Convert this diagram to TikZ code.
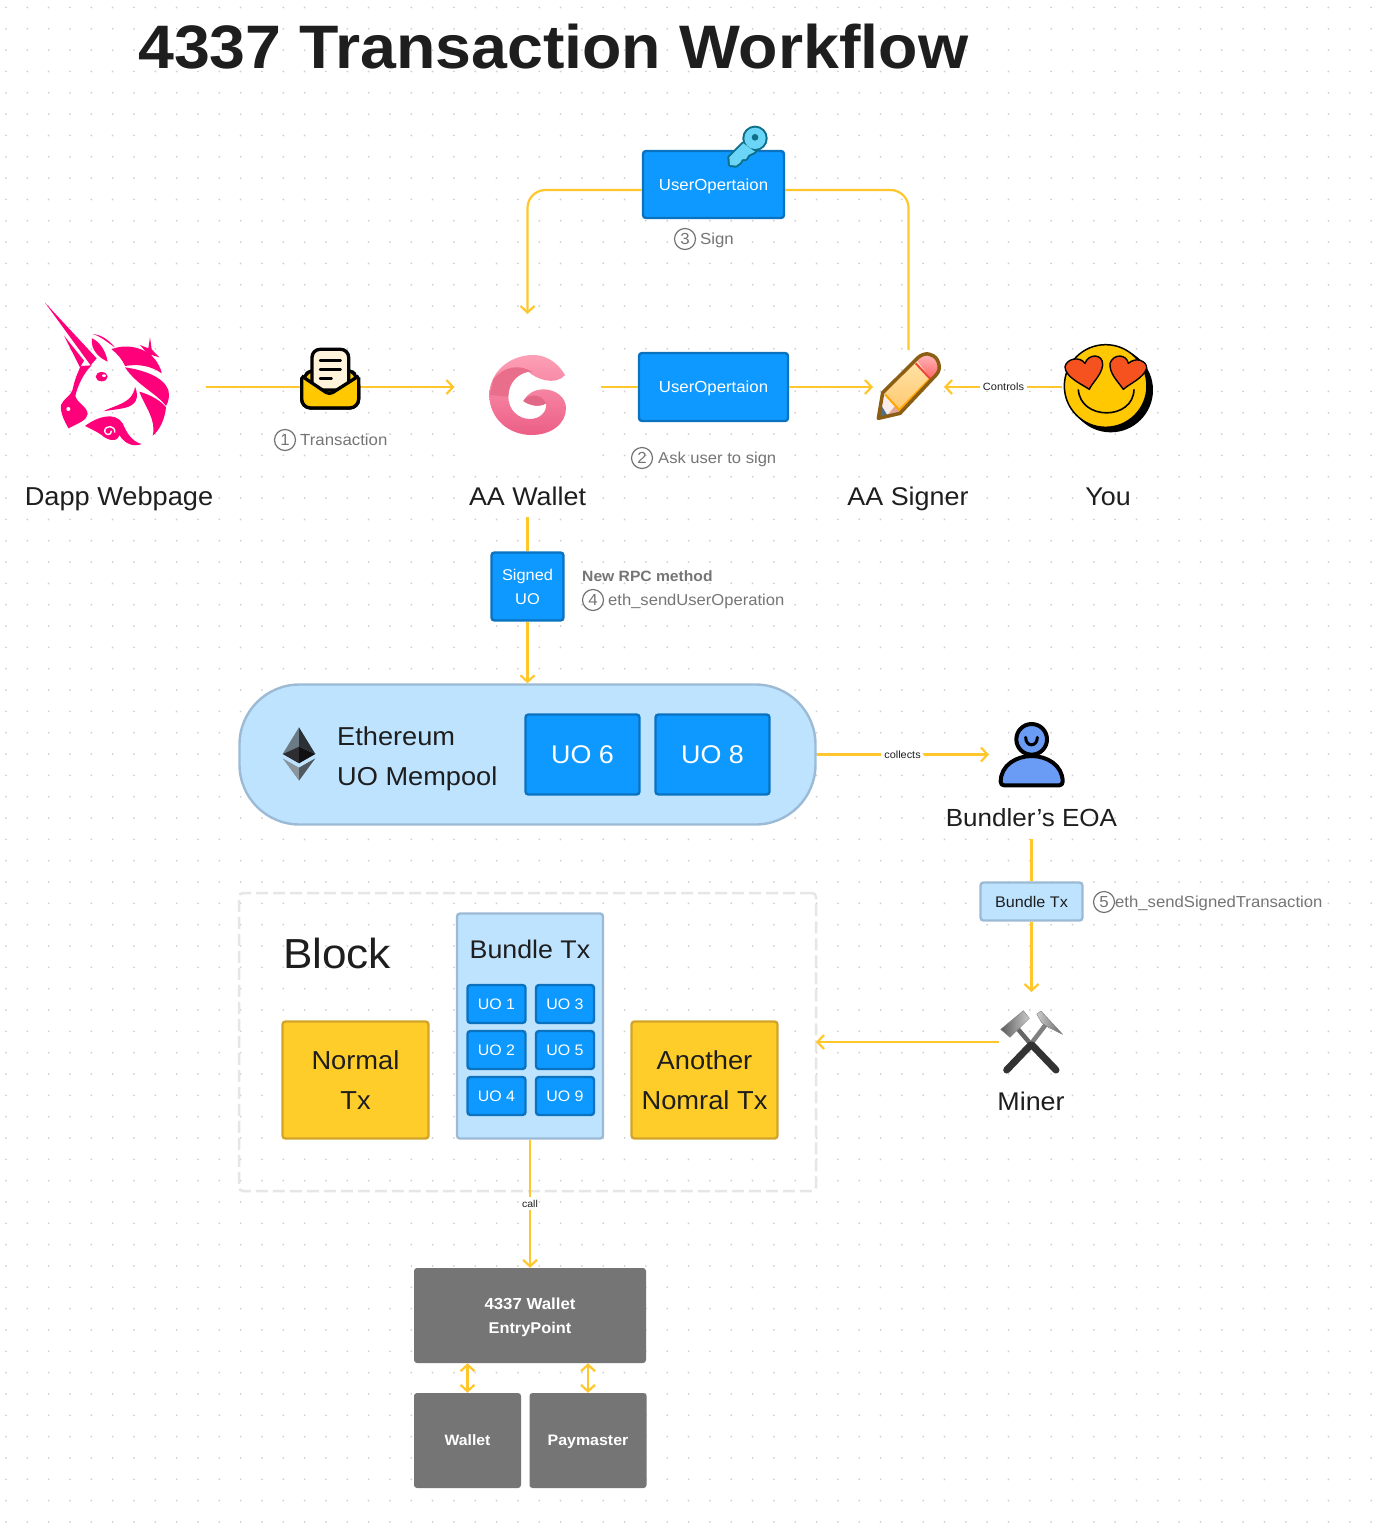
\documentclass[tikz,border=0pt]{standalone}
\usepackage{fontspec}
\setmainfont{Liberation Sans}[FakeStretch=1.05]
\usetikzlibrary{arrows.meta,calc}
\definecolor{ink}{HTML}{1E1E1E}
\definecolor{gry}{HTML}{757575}
\definecolor{yel}{HTML}{FFC72C}
\definecolor{blu}{HTML}{0D99FF}
\definecolor{bluedge}{HTML}{0A72BF}
\definecolor{pale}{HTML}{BDE3FF}
\definecolor{paleedge}{HTML}{9CBAD4}
\definecolor{gold}{HTML}{FFCD29}
\definecolor{goldedge}{HTML}{D2A52A}
\definecolor{uni}{HTML}{FF007A}
\definecolor{dots}{HTML}{D0D0D0}
\definecolor{cream}{HTML}{FFF3DC}
\definecolor{amber}{HTML}{FFC800}
\definecolor{dashc}{HTML}{E6E6E6}
\definecolor{gtop}{RGB}{253,160,182}
\definecolor{gbot}{RGB}{236,94,134}
\definecolor{gdark}{RGB}{232,110,140}
\definecolor{gdarker}{RGB}{226,104,136}
\definecolor{keyd}{RGB}{14,111,138}
\definecolor{keyl}{RGB}{107,213,247}
\definecolor{pena}{RGB}{255,228,170}
\definecolor{penb}{RGB}{255,200,110}
\definecolor{era}{RGB}{255,190,195}
\definecolor{erb}{RGB}{255,100,100}
\definecolor{band}{RGB}{240,64,64}
\definecolor{tipw}{RGB}{248,237,232}
\definecolor{tipp}{RGB}{226,168,150}
\definecolor{lead}{RGB}{80,112,138}
\definecolor{penout}{RGB}{139,94,20}
\definecolor{heart}{RGB}{245,82,32}
\definecolor{pers}{RGB}{106,155,245}
\definecolor{ea}{RGB}{108,122,133}
\definecolor{eb}{RGB}{42,48,54}
\definecolor{ec}{RGB}{46,46,50}
\definecolor{ed}{RGB}{17,17,20}
\definecolor{ee}{RGB}{138,149,156}
\definecolor{ef}{RGB}{80,89,95}
\newcommand{\fs}[2][]{\fontsize{#2}{#1}\selectfont}
\newcommand{\cc}[1]{\raisebox{0pt}[.72em][0pt]{#1}}
\tikzset{
  x=1pt,y=-1pt,
  ubox/.style={draw=bluedge,fill=blu,line width=2.4pt,rounded corners=3pt,inner sep=0pt,text=white,align=center},
  pbox/.style={draw=paleedge,fill=pale,line width=2.4pt,rounded corners=3pt,inner sep=0pt,text=ink,align=center},
  gbox/.style={draw=goldedge,fill=gold,line width=2.4pt,rounded corners=3pt,inner sep=0pt,text=ink,align=center},
  dbox/.style={fill=gry,draw=none,rounded corners=3pt,inner sep=0pt,text=white,align=center},
  iconbox/.style={inner sep=0pt,outer sep=0pt,rectangle},
  lbl/.style={inner sep=0pt,text=ink},
  cap1/.style={inner sep=0pt,text=gry,anchor=west},
  numc/.style={circle,draw=gry,line width=1.2pt,minimum size=21pt,inner sep=0pt,text=gry},
  link/.style={draw=yel,line width=2.2pt},
  arr/.style={link,-{Straight Barb[length=6.5pt,width=14pt,line width=2.2pt]}},
  darr/.style={link,{Straight Barb[length=6.5pt,width=14pt,line width=2.2pt]}-{Straight Barb[length=6.5pt,width=14pt,line width=2.2pt]}},
  tag/.style={inner sep=3pt,text=ink},
  zz/.style={shift={(#1)},scale=1/3},
}
\begin{document}
\begin{tikzpicture}
\useasboundingbox (0,0) rectangle (1386,1528);
\fill[white] (0,0) rectangle (1386,1528);
\foreach \i in {0,...,64}{\foreach \j in {0,...,71}{
  \fill[dots] ({6+21.33*\i},{7.5+21.33*\j}) circle[radius=1pt];}}
\fill[white] (461,330) rectangle (599,470);

% title
\node[lbl,anchor=base west] (title) at (138,68) {\fs[64]{61.4}\bfseries 4337 Transaction Workflow};

% icon placeholders
\node[iconbox,minimum width=160pt,minimum height=150pt] (unicorn) at (126,387) {};
\node[iconbox,minimum width=59pt,minimum height=60pt] (envelope) at (330.5,387) {};
\node[iconbox,minimum width=146pt,minimum height=146pt] (gwallet) at (527.5,387) {};
\node[iconbox,minimum width=71pt,minimum height=74pt] (pencil) at (908.5,387) {};
\node[iconbox,minimum width=92pt,minimum height=90pt] (you) at (1108,387) {};
\node[iconbox,minimum width=84pt,minimum height=70pt] (person) at (1031,754.5) {};
\node[iconbox,minimum width=66pt,minimum height=100pt] (miner) at (1031.5,1042) {};

% labels
\node[lbl] (ldapp) at (119,496) {\fs[32]{25.9}\cc{Dapp Webpage}};
\node[lbl,minimum height=42pt] (lwallet) at (527.5,496) {\fs[32]{25.6}\cc{AA Wallet}};
\node[lbl] (lsigner) at (908,496) {\fs[32]{25.6}\cc{AA Signer}};
\node[lbl] (lyou) at (1108,496) {\fs[32]{25.6}\cc{You}};
\node[lbl,minimum height=42pt] (leoa) at (1031.5,818) {\fs[32]{24.8}\cc{Bundler’s EOA}};
\node[lbl] (lminer) at (1031,1101) {\fs[32]{25.6}\cc{Miner}};

% boxes
\node[ubox,minimum width=141pt,minimum height=67pt] (uotop) at (713.5,184.5) {\fs[20]{16}\cc{UserOpertaion}};
\node[ubox,minimum width=149pt,minimum height=68pt] (uomid) at (713.5,387) {\fs[20]{16}\cc{UserOpertaion}};
\node[ubox,minimum width=72pt,minimum height=68pt,font={\fs[24]{15.6}}] (signed) at (527.5,586.5) {Signed\\UO};

\node[pbox,minimum width=576pt,minimum height=140pt,rounded corners=60pt] (mempool) at (527.5,754.5) {};
\node[lbl,anchor=west] (eth1) at (337,736) {\fs[32]{25.9}\cc{Ethereum}};
\node[lbl,anchor=west] (eth2) at (337,776) {\fs[32]{25.9}\cc{UO Mempool}};
\node[ubox,minimum width=114pt,minimum height=80pt] (uo6) at (582.5,754.5) {\fs[32]{25.6}\cc{UO 6}};
\node[ubox,minimum width=114pt,minimum height=80pt] (uo8) at (712.5,754.5) {\fs[32]{25.6}\cc{UO 8}};

\node[pbox,minimum width=102pt,minimum height=38pt] (bsmall) at (1031.5,901.5) {\fs[20]{15.4}\cc{Bundle Tx}};

\node[draw=dashc,dash pattern=on 12pt off 5pt,line width=2.5pt,rounded corners=4pt,minimum width=577pt,minimum height=298pt,inner sep=0pt,outer sep=0pt] (block) at (527.5,1042) {};
\node[lbl,anchor=west] (lblock) at (283,953) {\fs[50]{42}\cc{Block}};
\node[gbox,minimum width=146pt,minimum height=117pt,font={\fs[40]{26}}] (ntx) at (355.5,1080) {Normal\\Tx};
\node[gbox,minimum width=146pt,minimum height=117pt,font={\fs[40]{26}}] (atx) at (704.5,1080) {Another\\Nomral Tx};
\node[pbox,minimum width=146pt,minimum height=225pt] (bundle) at (530,1026) {};
\node[lbl] (lbundle) at (530,949) {\fs[32]{25.5}\cc{Bundle Tx}};
\foreach \nm/\uot/\cx/\cy in {u1/UO 1/496.5/1004,u3/UO 3/565/1004,u2/UO 2/496.5/1050,u5/UO 5/565/1050,u4/UO 4/496.5/1096,u9/UO 9/565/1096}{
  \node[ubox,minimum width=58pt,minimum height=38pt] (\nm) at (\cx,\cy) {\fs[20]{15.2}\cc{\uot}};}

\node[dbox,minimum width=232pt,minimum height=95pt] (entry) at (530,1315.5) {};
\node[lbl,text=white] (entry1) at (530,1304) {\fs[20]{16}\bfseries\cc{4337 Wallet}};
\node[lbl,text=white] (entry2) at (530,1328) {\fs[20]{15.6}\bfseries\cc{EntryPoint}};
\node[dbox,minimum width=107pt,minimum height=95pt] (wlt) at (467.5,1440.5) {\fs[20]{15}\bfseries\raisebox{-1pt}{\cc{Wallet}}};
\node[dbox,minimum width=117pt,minimum height=95pt] (pay) at (588,1440.5) {\fs[20]{15.2}\bfseries\raisebox{-1pt}{\cc{Paymaster}}};

% captions
\node[numc] (n1) at (285,440) {\fs[16]{16}\cc{1}};
\node[cap1] (t1) at (300,440) {\fs[20]{16}\cc{Transaction}};
\node[numc] (n2) at (642,458) {\fs[16]{16}\cc{2}};
\node[cap1] (t2) at (658,458) {\fs[20]{15.8}\cc{Ask user to sign}};
\node[numc] (n3) at (685,239) {\fs[16]{16}\cc{3}};
\node[cap1] (t3) at (700,239) {\fs[20]{16}\cc{Sign}};
\node[cap1] (t4a) at (582,576) {\fs[20]{14.9}\bfseries\cc{New RPC method}};
\node[numc] (n4) at (593,600) {\fs[16]{16}\cc{4}};
\node[cap1] (t4) at (608,600) {\fs[20]{15.8}\cc{eth\_sendUserOperation}};
\node[numc] (n5) at (1104,902) {\fs[16]{16}\cc{5}};
\node[cap1] (t5) at (1115,902) {\fs[20]{15.9}\cc{eth\_sendSignedTransaction}};

% tags on connectors
\node[tag] (ctl) at (1003.5,387) {\fs[12]{10.5}\cc{Controls}};
\node[tag] (coll) at (902.5,754.5) {\fs[12]{10.4}\cc{collects}};
\node[tag] (callt) at (530,1203.5) {\fs[12]{10}\cc{call}};

% connectors
\draw[link] (unicorn.east) -- (envelope.west);
\draw[arr] (envelope.east) -- (gwallet.west);
\draw[link] (gwallet.east) -- (uomid.west);
\draw[arr] (uomid.east) -- (pencil.west);
\draw[arr,rounded corners=18pt] ([yshift=-5.5pt]uotop.west) -| (gwallet.north);
\draw[link,rounded corners=18pt] ([yshift=-5.5pt]uotop.east) -| (pencil.north);
\draw[link] (you.west) -- (ctl);
\draw[arr] (ctl) -- (pencil.east);
\draw[link] (lwallet.south) -- (signed.north);
\draw[arr] (signed.south) -- (mempool.north);
\draw[link] (mempool.east) -- (coll);
\draw[arr] (coll) -- (person.west);
\draw[link] (leoa.south) -- (bsmall.north);
\draw[arr] (bsmall.south) -- (miner.north);
\draw[arr] (miner.west) -- (block.east);
\draw[link] (bundle.south) -- (callt);
\draw[arr] (callt) -- (entry.north);
\draw[darr] (wlt.north) -- (wlt.north |- entry.south);
\draw[darr] (pay.north) -- (pay.north |- entry.south);

% unicorn
\begin{scope}[zz={0,290}]
 \fill[uni] (135,38) -- (290,205) -- (272,226) -- cycle;
 \fill[uni] (192,137) -- (252,212) -- (240,232) -- cycle;
 \fill[uni] (242,228) -- (275,226) .. controls (250,250) and (232,290) .. (226,318) .. controls (232,340) and (262,350) .. (263,372) .. controls (262,390) and (235,400) .. (205,415) .. controls (195,395) and (180,370) .. (183,345) .. controls (190,325) and (215,320) .. (220,290) .. controls (225,265) and (235,245) .. (242,228) -- cycle;
 \fill[uni] (276,145) .. controls (300,155) and (318,185) .. (323,215) .. controls (300,205) and (270,180) .. (276,145) -- cycle;
 \fill[uni] (278,132) .. controls (310,135) and (330,155) .. (345,172) .. controls (325,160) and (305,140) .. (278,132) -- cycle;
 \fill[uni] (335,178) .. controls (375,160) and (440,170) .. (470,215) .. controls (480,230) and (485,245) .. (485,250) .. controls (450,225) and (410,222) .. (375,228) .. controls (365,205) and (350,190) .. (335,178) -- cycle;
 \fill[uni] (375,232) .. controls (430,240) and (490,260) .. (505,300) .. controls (510,320) and (505,335) .. (498,348) .. controls (470,310) and (410,285) .. (375,232) -- cycle;
 \fill[uni] (418,305) .. controls (455,315) and (485,335) .. (498,352) .. controls (495,385) and (480,420) .. (458,437) .. controls (470,390) and (435,350) .. (418,305) -- cycle;
 \fill[uni] (405,290) .. controls (420,325) and (405,345) .. (380,352) .. controls (360,358) and (330,360) .. (310,364) .. controls (345,345) and (400,340) .. (405,290) -- cycle;
 \fill[uni] (255,408) .. controls (295,378) and (345,365) .. (368,400) .. controls (378,425) and (395,455) .. (425,462) .. controls (400,472) and (375,462) .. (358,435) .. controls (352,460) and (320,450) .. (305,435) .. controls (290,425) and (270,415) .. (255,408) -- cycle;
 \draw[white,line width=1.4pt] (344,428) .. controls (348,405) and (314,404) .. (314,424) .. controls (316,438) and (336,436) .. (334,422);
 \fill[uni] (305,260) ellipse[x radius=18,y radius=14];
 \fill[white] (312,257) ellipse[x radius=6,y radius=4];
 \fill[white] (205,357) circle[radius=6];
 \fill[uni] (450,142) -- (455,178) -- (478,202) -- (455,195) -- (447,225) -- (443,192) -- (420,165) -- (445,175) -- cycle;
\end{scope}

% envelope
\begin{scope}[zz={0,290}]
 \draw[black,line width=3.3pt,fill=amber,rounded corners=9pt] (905,262) -- (940,235) -- (1045,235) -- (1076,262) -- (1076,354) -- (905,354) -- cycle;
 \draw[black,line width=3.3pt,fill=cream,rounded corners=8pt] (936,178) rectangle (1046,300);
 \fill[amber] (908,258) -- (988,315) -- (1074,258) -- (1074,350) -- (908,350) -- cycle;
 \draw[black,line width=3.3pt,line join=round,rounded corners=4pt] (905,258) -- (988,314) -- (1076,258);
 \draw[black,line width=3.3pt,rounded corners=9pt] (905,262) -- (905,354) -- (1076,354) -- (1076,262);
 \draw[black,line width=2.4pt,line cap=round] (960,211) -- (1022,211) (960,238) -- (1022,238) (960,265) -- (995,265);
\end{scope}

% G wallet
\begin{scope}[zz={440,320}]
 \shade[top color=gtop,bottom color=gbot]
  (375,165) .. controls (345,115) and (305,105) .. (280,105) .. controls (205,105) and (148,160) .. (148,225) .. controls (148,295) and (205,345) .. (275,345) .. controls (335,345) and (378,310) .. (378,265) .. controls (378,230) and (345,208) .. (310,208) .. controls (280,208) and (260,225) .. (250,243) .. controls (270,258) and (300,262) .. (318,250) .. controls (322,275) and (300,297) .. (270,297) .. controls (235,297) and (205,270) .. (205,230) .. controls (205,190) and (235,160) .. (265,155) .. controls (285,175) and (345,200) .. (375,165) -- cycle;
 \fill[gdark] (160,178) .. controls (190,140) and (240,130) .. (278,157) -- (265,155) .. controls (225,165) and (205,190) .. (205,230) -- (150,225) -- cycle;
 \fill[gdarker] (250,243) .. controls (260,225) and (300,215) .. (318,250) .. controls (300,262) and (270,258) .. (250,243) -- cycle;
\end{scope}

% key
\begin{scope}[zz={460,110}]
 \draw[keyd,line width=4pt,line join=round] (808,142) -- (850,100) -- (885,125) -- (865,135) -- (858,147) -- (846,148) -- (840,158) -- (828,167) -- (810,165) -- cycle;
 \draw[keyd,line width=4pt] (885,85) circle[radius=32];
 \fill[keyl] (808,142) -- (850,100) -- (885,125) -- (865,135) -- (858,147) -- (846,148) -- (840,158) -- (828,167) -- (810,165) -- cycle;
 \fill[keyl] (885,85) circle[radius=32];
 \fill[keyd] (885,82) circle[radius=10];
\end{scope}

% pencil
\begin{scope}[zz={850,330}]
 \shade[top color=pena,bottom color=penb] (100,185) -- (205,82) -- (262,130) -- (150,248) -- cycle;
 \shade[top color=era,bottom color=erb] (200,90) .. controls (225,65) and (250,70) .. (262,90) .. controls (272,110) and (268,125) .. (245,150) -- cycle;
 \draw[band,line width=2pt] (197,100) -- (242,148);
 \fill[tipw] (100,188) -- (150,245) -- (88,262) -- cycle;
 \fill[tipp] (110,258) -- (150,245) -- (135,228) -- cycle;
 \fill[lead] (95,228) -- (113,257) -- (88,262) -- cycle;
 \draw[orange!70!yellow,line width=2pt] (105,193) -- (148,240) -- (238,148);
 \draw[penout,line width=3.5pt,line join=round] (98,188) -- (205,82) .. controls (225,65) and (250,70) .. (262,90) .. controls (272,110) and (268,125) .. (258,135) -- (150,250) -- (85,265) -- cycle;
\end{scope}

% smiling face
\begin{scope}[zz={850,330}]
 \fill[black] (782,180) circle[radius=127];
 \draw[black,line width=1.5pt,fill=amber] (767,168) circle[radius=124];
 \draw[black,line width=1.6pt] (685,178) .. controls (690,272) and (850,272) .. (852,178);
 \draw[black,line width=1.4pt,fill=heart,line join=round] (718,178) .. controls (690,160) and (645,140) .. (645,110) .. controls (650,85) and (690,78) .. (705,100) .. controls (715,70) and (760,70) .. (758,105) .. controls (755,135) and (725,160) .. (718,178) -- cycle;
 \draw[black,line width=1.4pt,fill=heart,line join=round] (820,178) .. controls (800,150) and (778,130) .. (780,100) .. controls (790,70) and (830,72) .. (835,100) .. controls (860,78) and (892,95) .. (890,115) .. controls (880,145) and (840,160) .. (820,178) -- cycle;
\end{scope}

% person
\begin{scope}[zz={960,700}]
 \draw[black,line width=4pt,fill=pers,line join=round] (122,245) .. controls (122,195) and (170,168) .. (215,168) .. controls (260,168) and (308,195) .. (308,245) .. controls (308,252) and (304,256) .. (298,256) -- (132,256) .. controls (126,256) and (122,252) .. (122,245) -- cycle;
 \draw[black,line width=4pt,fill=pers] (215,118) circle[radius=46];
 \draw[black,line width=3pt,line cap=round] (197,112) .. controls (197,142) and (232,142) .. (232,112);
\end{scope}

% miner
\begin{scope}[zz={980,990}]
 \draw[black!60,line width=4.5pt] (152,162) -- (112,115);
 \draw[black!50,line width=4.5pt] (154,160) -- (200,100);
 \draw[black!80,line width=7pt,line cap=round] (80,240) -- (152,165);
 \draw[black!80,line width=7pt,line cap=round] (228,240) -- (156,165);
 \shade[left color=black!65,right color=black!20,draw=black!50,line join=round] (62,118) -- (130,62) -- (148,85) -- (90,142) -- cycle;
 \shade[left color=black!20,right color=black!60,draw=black!50,line join=round] (170,72) -- (183,63) -- (248,133) -- (205,112) -- (185,98) -- cycle;
\end{scope}

% ethereum
\begin{scope}[zz={230,680}]
 \fill[ea] (207,142) -- (158,222) -- (207,200) -- cycle;
 \fill[eb] (207,142) -- (256,222) -- (207,200) -- cycle;
 \fill[ec] (158,222) -- (207,200) -- (207,250) -- cycle;
 \fill[ed] (207,200) -- (256,222) -- (207,250) -- cycle;
 \fill[ee] (158,235) -- (207,263) -- (207,302) -- cycle;
 \fill[ef] (256,235) -- (207,263) -- (207,302) -- cycle;
\end{scope}
\end{tikzpicture}
\end{document}
